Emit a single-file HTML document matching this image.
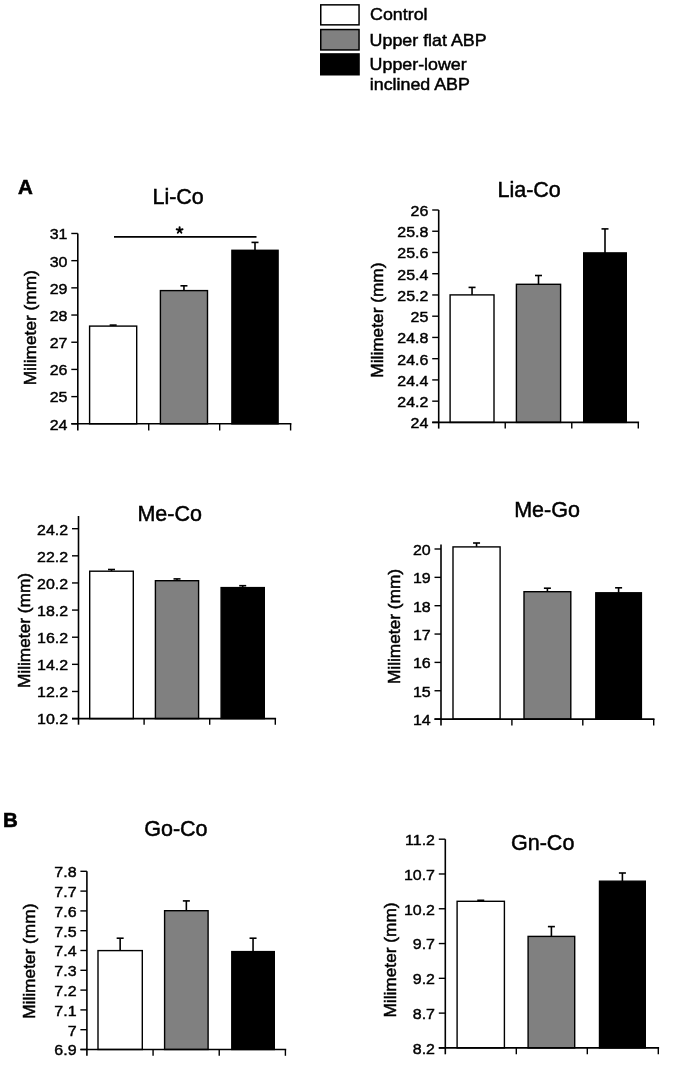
<!DOCTYPE html>
<html><head><meta charset="utf-8"><style>
html,body{margin:0;padding:0;background:#fff;overflow:hidden;}
svg{display:block;will-change:transform;}
text{font-family:"Liberation Sans",sans-serif;fill:#000;stroke:#000;stroke-width:0.5px;}
</style></head><body>
<svg width="677" height="1072" viewBox="0 0 677 1072">
<rect width="677" height="1072" fill="#fff"/>
<line x1="113.15" y1="326.10" x2="113.15" y2="325.10" stroke="#000" stroke-width="1.6"/>
<line x1="109.65" y1="325.10" x2="116.65" y2="325.10" stroke="#000" stroke-width="1.6"/>
<rect x="89.60" y="326.10" width="47.10" height="97.70" fill="#fff" stroke="#000" stroke-width="1.4"/>
<line x1="183.95" y1="290.60" x2="183.95" y2="285.80" stroke="#000" stroke-width="1.6"/>
<line x1="180.45" y1="285.80" x2="187.45" y2="285.80" stroke="#000" stroke-width="1.6"/>
<rect x="160.40" y="290.60" width="47.10" height="133.20" fill="#808080" stroke="#000" stroke-width="1.4"/>
<line x1="255.00" y1="250.30" x2="255.00" y2="242.40" stroke="#000" stroke-width="1.6"/>
<line x1="251.50" y1="242.40" x2="258.50" y2="242.40" stroke="#000" stroke-width="1.6"/>
<rect x="231.90" y="250.30" width="46.20" height="173.50" fill="#000" stroke="#000" stroke-width="1.4"/>
<line x1="77.80" y1="233.50" x2="77.80" y2="430.50" stroke="#000" stroke-width="1.6"/>
<line x1="71.30" y1="423.80" x2="291.40" y2="423.80" stroke="#000" stroke-width="1.6"/>
<line x1="148.73" y1="423.80" x2="148.73" y2="430.50" stroke="#000" stroke-width="1.4"/>
<line x1="219.67" y1="423.80" x2="219.67" y2="430.50" stroke="#000" stroke-width="1.4"/>
<line x1="290.60" y1="423.80" x2="290.60" y2="430.50" stroke="#000" stroke-width="1.4"/>
<line x1="71.30" y1="423.80" x2="77.80" y2="423.80" stroke="#000" stroke-width="1.4"/>
<text transform="translate(67.50,429.65) scale(1,0.94)" font-size="16.0" text-anchor="end" style="stroke-width:0.45px">24</text>
<line x1="71.30" y1="396.61" x2="77.80" y2="396.61" stroke="#000" stroke-width="1.4"/>
<text transform="translate(67.50,402.46) scale(1,0.94)" font-size="16.0" text-anchor="end" style="stroke-width:0.45px">25</text>
<line x1="71.30" y1="369.42" x2="77.80" y2="369.42" stroke="#000" stroke-width="1.4"/>
<text transform="translate(67.50,375.27) scale(1,0.94)" font-size="16.0" text-anchor="end" style="stroke-width:0.45px">26</text>
<line x1="71.30" y1="342.23" x2="77.80" y2="342.23" stroke="#000" stroke-width="1.4"/>
<text transform="translate(67.50,348.08) scale(1,0.94)" font-size="16.0" text-anchor="end" style="stroke-width:0.45px">27</text>
<line x1="71.30" y1="315.04" x2="77.80" y2="315.04" stroke="#000" stroke-width="1.4"/>
<text transform="translate(67.50,320.89) scale(1,0.94)" font-size="16.0" text-anchor="end" style="stroke-width:0.45px">28</text>
<line x1="71.30" y1="287.85" x2="77.80" y2="287.85" stroke="#000" stroke-width="1.4"/>
<text transform="translate(67.50,293.70) scale(1,0.94)" font-size="16.0" text-anchor="end" style="stroke-width:0.45px">29</text>
<line x1="71.30" y1="260.66" x2="77.80" y2="260.66" stroke="#000" stroke-width="1.4"/>
<text transform="translate(67.50,266.51) scale(1,0.94)" font-size="16.0" text-anchor="end" style="stroke-width:0.45px">30</text>
<line x1="71.30" y1="233.47" x2="77.80" y2="233.47" stroke="#000" stroke-width="1.4"/>
<text transform="translate(67.50,239.32) scale(1,0.94)" font-size="16.0" text-anchor="end" style="stroke-width:0.45px">31</text>
<text x="152.44" y="203.80" font-size="21.5">Li-Co</text>
<text transform="translate(36.30,327.75) rotate(-90)" x="0" y="0" font-size="17.3" text-anchor="middle">Milimeter (mm)</text>
<line x1="472.05" y1="294.90" x2="472.05" y2="287.40" stroke="#000" stroke-width="1.6"/>
<line x1="468.55" y1="287.40" x2="475.55" y2="287.40" stroke="#000" stroke-width="1.6"/>
<rect x="450.10" y="294.90" width="43.90" height="127.50" fill="#fff" stroke="#000" stroke-width="1.4"/>
<line x1="538.50" y1="284.30" x2="538.50" y2="275.50" stroke="#000" stroke-width="1.6"/>
<line x1="535.00" y1="275.50" x2="542.00" y2="275.50" stroke="#000" stroke-width="1.6"/>
<rect x="516.40" y="284.30" width="44.20" height="138.10" fill="#808080" stroke="#000" stroke-width="1.4"/>
<line x1="605.00" y1="252.90" x2="605.00" y2="228.90" stroke="#000" stroke-width="1.6"/>
<line x1="601.50" y1="228.90" x2="608.50" y2="228.90" stroke="#000" stroke-width="1.6"/>
<rect x="583.70" y="252.90" width="42.60" height="169.50" fill="#000" stroke="#000" stroke-width="1.4"/>
<line x1="438.70" y1="210.00" x2="438.70" y2="428.60" stroke="#000" stroke-width="1.6"/>
<line x1="432.20" y1="422.40" x2="639.10" y2="422.40" stroke="#000" stroke-width="1.6"/>
<line x1="505.23" y1="422.40" x2="505.23" y2="428.60" stroke="#000" stroke-width="1.4"/>
<line x1="571.77" y1="422.40" x2="571.77" y2="428.60" stroke="#000" stroke-width="1.4"/>
<line x1="638.30" y1="422.40" x2="638.30" y2="428.60" stroke="#000" stroke-width="1.4"/>
<line x1="432.20" y1="422.40" x2="438.70" y2="422.40" stroke="#000" stroke-width="1.4"/>
<text transform="translate(428.40,428.25) scale(1,0.94)" font-size="16.0" text-anchor="end" style="stroke-width:0.45px">24</text>
<line x1="432.20" y1="401.16" x2="438.70" y2="401.16" stroke="#000" stroke-width="1.4"/>
<text transform="translate(428.40,407.01) scale(1,0.94)" font-size="16.0" text-anchor="end" style="stroke-width:0.45px">24.2</text>
<line x1="432.20" y1="379.92" x2="438.70" y2="379.92" stroke="#000" stroke-width="1.4"/>
<text transform="translate(428.40,385.77) scale(1,0.94)" font-size="16.0" text-anchor="end" style="stroke-width:0.45px">24.4</text>
<line x1="432.20" y1="358.68" x2="438.70" y2="358.68" stroke="#000" stroke-width="1.4"/>
<text transform="translate(428.40,364.53) scale(1,0.94)" font-size="16.0" text-anchor="end" style="stroke-width:0.45px">24.6</text>
<line x1="432.20" y1="337.44" x2="438.70" y2="337.44" stroke="#000" stroke-width="1.4"/>
<text transform="translate(428.40,343.29) scale(1,0.94)" font-size="16.0" text-anchor="end" style="stroke-width:0.45px">24.8</text>
<line x1="432.20" y1="316.20" x2="438.70" y2="316.20" stroke="#000" stroke-width="1.4"/>
<text transform="translate(428.40,322.05) scale(1,0.94)" font-size="16.0" text-anchor="end" style="stroke-width:0.45px">25</text>
<line x1="432.20" y1="294.96" x2="438.70" y2="294.96" stroke="#000" stroke-width="1.4"/>
<text transform="translate(428.40,300.81) scale(1,0.94)" font-size="16.0" text-anchor="end" style="stroke-width:0.45px">25.2</text>
<line x1="432.20" y1="273.72" x2="438.70" y2="273.72" stroke="#000" stroke-width="1.4"/>
<text transform="translate(428.40,279.57) scale(1,0.94)" font-size="16.0" text-anchor="end" style="stroke-width:0.45px">25.4</text>
<line x1="432.20" y1="252.48" x2="438.70" y2="252.48" stroke="#000" stroke-width="1.4"/>
<text transform="translate(428.40,258.33) scale(1,0.94)" font-size="16.0" text-anchor="end" style="stroke-width:0.45px">25.6</text>
<line x1="432.20" y1="231.24" x2="438.70" y2="231.24" stroke="#000" stroke-width="1.4"/>
<text transform="translate(428.40,237.09) scale(1,0.94)" font-size="16.0" text-anchor="end" style="stroke-width:0.45px">25.8</text>
<line x1="432.20" y1="210.00" x2="438.70" y2="210.00" stroke="#000" stroke-width="1.4"/>
<text transform="translate(428.40,215.85) scale(1,0.94)" font-size="16.0" text-anchor="end" style="stroke-width:0.45px">26</text>
<text x="497.44" y="196.90" font-size="21.5">Lia-Co</text>
<text transform="translate(382.90,320.10) rotate(-90)" x="0" y="0" font-size="17.3" text-anchor="middle">Milimeter (mm)</text>
<line x1="111.50" y1="571.20" x2="111.50" y2="569.50" stroke="#000" stroke-width="1.6"/>
<line x1="108.00" y1="569.50" x2="115.00" y2="569.50" stroke="#000" stroke-width="1.6"/>
<rect x="89.70" y="571.20" width="43.60" height="147.40" fill="#fff" stroke="#000" stroke-width="1.4"/>
<line x1="177.00" y1="580.70" x2="177.00" y2="578.90" stroke="#000" stroke-width="1.6"/>
<line x1="173.50" y1="578.90" x2="180.50" y2="578.90" stroke="#000" stroke-width="1.6"/>
<rect x="155.40" y="580.70" width="43.20" height="137.90" fill="#808080" stroke="#000" stroke-width="1.4"/>
<line x1="242.70" y1="587.60" x2="242.70" y2="585.70" stroke="#000" stroke-width="1.6"/>
<line x1="239.20" y1="585.70" x2="246.20" y2="585.70" stroke="#000" stroke-width="1.6"/>
<rect x="221.10" y="587.60" width="43.20" height="131.00" fill="#000" stroke="#000" stroke-width="1.4"/>
<line x1="78.50" y1="516.00" x2="78.50" y2="724.70" stroke="#000" stroke-width="1.6"/>
<line x1="72.00" y1="718.60" x2="276.10" y2="718.60" stroke="#000" stroke-width="1.6"/>
<line x1="144.10" y1="718.60" x2="144.10" y2="724.70" stroke="#000" stroke-width="1.4"/>
<line x1="209.70" y1="718.60" x2="209.70" y2="724.70" stroke="#000" stroke-width="1.4"/>
<line x1="275.30" y1="718.60" x2="275.30" y2="724.70" stroke="#000" stroke-width="1.4"/>
<line x1="72.00" y1="718.60" x2="78.50" y2="718.60" stroke="#000" stroke-width="1.4"/>
<text transform="translate(68.20,724.45) scale(1,0.94)" font-size="16.0" text-anchor="end" style="stroke-width:0.45px">10.2</text>
<line x1="72.00" y1="691.47" x2="78.50" y2="691.47" stroke="#000" stroke-width="1.4"/>
<text transform="translate(68.20,697.32) scale(1,0.94)" font-size="16.0" text-anchor="end" style="stroke-width:0.45px">12.2</text>
<line x1="72.00" y1="664.34" x2="78.50" y2="664.34" stroke="#000" stroke-width="1.4"/>
<text transform="translate(68.20,670.19) scale(1,0.94)" font-size="16.0" text-anchor="end" style="stroke-width:0.45px">14.2</text>
<line x1="72.00" y1="637.21" x2="78.50" y2="637.21" stroke="#000" stroke-width="1.4"/>
<text transform="translate(68.20,643.06) scale(1,0.94)" font-size="16.0" text-anchor="end" style="stroke-width:0.45px">16.2</text>
<line x1="72.00" y1="610.08" x2="78.50" y2="610.08" stroke="#000" stroke-width="1.4"/>
<text transform="translate(68.20,615.93) scale(1,0.94)" font-size="16.0" text-anchor="end" style="stroke-width:0.45px">18.2</text>
<line x1="72.00" y1="582.95" x2="78.50" y2="582.95" stroke="#000" stroke-width="1.4"/>
<text transform="translate(68.20,588.80) scale(1,0.94)" font-size="16.0" text-anchor="end" style="stroke-width:0.45px">20.2</text>
<line x1="72.00" y1="555.82" x2="78.50" y2="555.82" stroke="#000" stroke-width="1.4"/>
<text transform="translate(68.20,561.67) scale(1,0.94)" font-size="16.0" text-anchor="end" style="stroke-width:0.45px">22.2</text>
<line x1="72.00" y1="528.69" x2="78.50" y2="528.69" stroke="#000" stroke-width="1.4"/>
<text transform="translate(68.20,534.54) scale(1,0.94)" font-size="16.0" text-anchor="end" style="stroke-width:0.45px">24.2</text>
<text x="137.44" y="521.00" font-size="21.5">Me-Co</text>
<text transform="translate(29.50,630.50) rotate(-90)" x="0" y="0" font-size="17.3" text-anchor="middle">Milimeter (mm)</text>
<line x1="476.55" y1="546.90" x2="476.55" y2="543.00" stroke="#000" stroke-width="1.6"/>
<line x1="473.05" y1="543.00" x2="480.05" y2="543.00" stroke="#000" stroke-width="1.6"/>
<rect x="453.00" y="546.90" width="47.10" height="172.20" fill="#fff" stroke="#000" stroke-width="1.4"/>
<line x1="547.40" y1="591.70" x2="547.40" y2="588.20" stroke="#000" stroke-width="1.6"/>
<line x1="543.90" y1="588.20" x2="550.90" y2="588.20" stroke="#000" stroke-width="1.6"/>
<rect x="524.00" y="591.70" width="46.80" height="127.40" fill="#808080" stroke="#000" stroke-width="1.4"/>
<line x1="618.60" y1="592.80" x2="618.60" y2="587.80" stroke="#000" stroke-width="1.6"/>
<line x1="615.10" y1="587.80" x2="622.10" y2="587.80" stroke="#000" stroke-width="1.6"/>
<rect x="595.80" y="592.80" width="45.60" height="126.30" fill="#000" stroke="#000" stroke-width="1.4"/>
<line x1="441.00" y1="544.60" x2="441.00" y2="725.60" stroke="#000" stroke-width="1.6"/>
<line x1="434.50" y1="719.10" x2="654.50" y2="719.10" stroke="#000" stroke-width="1.6"/>
<line x1="511.90" y1="719.10" x2="511.90" y2="725.60" stroke="#000" stroke-width="1.4"/>
<line x1="582.80" y1="719.10" x2="582.80" y2="725.60" stroke="#000" stroke-width="1.4"/>
<line x1="653.70" y1="719.10" x2="653.70" y2="725.60" stroke="#000" stroke-width="1.4"/>
<line x1="434.50" y1="719.10" x2="441.00" y2="719.10" stroke="#000" stroke-width="1.4"/>
<text transform="translate(430.70,724.95) scale(1,0.94)" font-size="16.0" text-anchor="end" style="stroke-width:0.45px">14</text>
<line x1="434.50" y1="690.75" x2="441.00" y2="690.75" stroke="#000" stroke-width="1.4"/>
<text transform="translate(430.70,696.60) scale(1,0.94)" font-size="16.0" text-anchor="end" style="stroke-width:0.45px">15</text>
<line x1="434.50" y1="662.40" x2="441.00" y2="662.40" stroke="#000" stroke-width="1.4"/>
<text transform="translate(430.70,668.25) scale(1,0.94)" font-size="16.0" text-anchor="end" style="stroke-width:0.45px">16</text>
<line x1="434.50" y1="634.05" x2="441.00" y2="634.05" stroke="#000" stroke-width="1.4"/>
<text transform="translate(430.70,639.90) scale(1,0.94)" font-size="16.0" text-anchor="end" style="stroke-width:0.45px">17</text>
<line x1="434.50" y1="605.70" x2="441.00" y2="605.70" stroke="#000" stroke-width="1.4"/>
<text transform="translate(430.70,611.55) scale(1,0.94)" font-size="16.0" text-anchor="end" style="stroke-width:0.45px">18</text>
<line x1="434.50" y1="577.35" x2="441.00" y2="577.35" stroke="#000" stroke-width="1.4"/>
<text transform="translate(430.70,583.20) scale(1,0.94)" font-size="16.0" text-anchor="end" style="stroke-width:0.45px">19</text>
<line x1="434.50" y1="549.00" x2="441.00" y2="549.00" stroke="#000" stroke-width="1.4"/>
<text transform="translate(430.70,554.85) scale(1,0.94)" font-size="16.0" text-anchor="end" style="stroke-width:0.45px">20</text>
<text x="514.14" y="517.10" font-size="21.5">Me-Go</text>
<text transform="translate(399.90,626.50) rotate(-90)" x="0" y="0" font-size="17.3" text-anchor="middle">Milimeter (mm)</text>
<line x1="120.15" y1="950.60" x2="120.15" y2="938.20" stroke="#000" stroke-width="1.6"/>
<line x1="116.65" y1="938.20" x2="123.65" y2="938.20" stroke="#000" stroke-width="1.6"/>
<rect x="98.00" y="950.60" width="44.30" height="98.90" fill="#fff" stroke="#000" stroke-width="1.4"/>
<line x1="186.35" y1="910.70" x2="186.35" y2="900.90" stroke="#000" stroke-width="1.6"/>
<line x1="182.85" y1="900.90" x2="189.85" y2="900.90" stroke="#000" stroke-width="1.6"/>
<rect x="164.60" y="910.70" width="43.50" height="138.80" fill="#808080" stroke="#000" stroke-width="1.4"/>
<line x1="253.05" y1="951.60" x2="253.05" y2="938.20" stroke="#000" stroke-width="1.6"/>
<line x1="249.55" y1="938.20" x2="256.55" y2="938.20" stroke="#000" stroke-width="1.6"/>
<rect x="231.80" y="951.60" width="42.50" height="97.90" fill="#000" stroke="#000" stroke-width="1.4"/>
<line x1="86.90" y1="871.30" x2="86.90" y2="1055.80" stroke="#000" stroke-width="1.6"/>
<line x1="80.40" y1="1049.50" x2="286.20" y2="1049.50" stroke="#000" stroke-width="1.6"/>
<line x1="153.07" y1="1049.50" x2="153.07" y2="1055.80" stroke="#000" stroke-width="1.4"/>
<line x1="219.23" y1="1049.50" x2="219.23" y2="1055.80" stroke="#000" stroke-width="1.4"/>
<line x1="285.40" y1="1049.50" x2="285.40" y2="1055.80" stroke="#000" stroke-width="1.4"/>
<line x1="80.40" y1="1049.50" x2="86.90" y2="1049.50" stroke="#000" stroke-width="1.4"/>
<text transform="translate(76.60,1055.35) scale(1,0.94)" font-size="16.0" text-anchor="end" style="stroke-width:0.45px">6.9</text>
<line x1="80.40" y1="1029.70" x2="86.90" y2="1029.70" stroke="#000" stroke-width="1.4"/>
<text transform="translate(76.60,1035.55) scale(1,0.94)" font-size="16.0" text-anchor="end" style="stroke-width:0.45px">7</text>
<line x1="80.40" y1="1009.90" x2="86.90" y2="1009.90" stroke="#000" stroke-width="1.4"/>
<text transform="translate(76.60,1015.75) scale(1,0.94)" font-size="16.0" text-anchor="end" style="stroke-width:0.45px">7.1</text>
<line x1="80.40" y1="990.10" x2="86.90" y2="990.10" stroke="#000" stroke-width="1.4"/>
<text transform="translate(76.60,995.95) scale(1,0.94)" font-size="16.0" text-anchor="end" style="stroke-width:0.45px">7.2</text>
<line x1="80.40" y1="970.30" x2="86.90" y2="970.30" stroke="#000" stroke-width="1.4"/>
<text transform="translate(76.60,976.15) scale(1,0.94)" font-size="16.0" text-anchor="end" style="stroke-width:0.45px">7.3</text>
<line x1="80.40" y1="950.50" x2="86.90" y2="950.50" stroke="#000" stroke-width="1.4"/>
<text transform="translate(76.60,956.35) scale(1,0.94)" font-size="16.0" text-anchor="end" style="stroke-width:0.45px">7.4</text>
<line x1="80.40" y1="930.70" x2="86.90" y2="930.70" stroke="#000" stroke-width="1.4"/>
<text transform="translate(76.60,936.55) scale(1,0.94)" font-size="16.0" text-anchor="end" style="stroke-width:0.45px">7.5</text>
<line x1="80.40" y1="910.90" x2="86.90" y2="910.90" stroke="#000" stroke-width="1.4"/>
<text transform="translate(76.60,916.75) scale(1,0.94)" font-size="16.0" text-anchor="end" style="stroke-width:0.45px">7.6</text>
<line x1="80.40" y1="891.10" x2="86.90" y2="891.10" stroke="#000" stroke-width="1.4"/>
<text transform="translate(76.60,896.95) scale(1,0.94)" font-size="16.0" text-anchor="end" style="stroke-width:0.45px">7.7</text>
<line x1="80.40" y1="871.30" x2="86.90" y2="871.30" stroke="#000" stroke-width="1.4"/>
<text transform="translate(76.60,877.15) scale(1,0.94)" font-size="16.0" text-anchor="end" style="stroke-width:0.45px">7.8</text>
<text x="144.23" y="835.50" font-size="21.5">Go-Co</text>
<text transform="translate(35.20,961.20) rotate(-90)" x="0" y="0" font-size="17.3" text-anchor="middle">Milimeter (mm)</text>
<line x1="480.75" y1="901.30" x2="480.75" y2="900.30" stroke="#000" stroke-width="1.6"/>
<line x1="477.25" y1="900.30" x2="484.25" y2="900.30" stroke="#000" stroke-width="1.6"/>
<rect x="457.10" y="901.30" width="47.30" height="146.60" fill="#fff" stroke="#000" stroke-width="1.4"/>
<line x1="551.40" y1="936.40" x2="551.40" y2="926.60" stroke="#000" stroke-width="1.6"/>
<line x1="547.90" y1="926.60" x2="554.90" y2="926.60" stroke="#000" stroke-width="1.6"/>
<rect x="528.10" y="936.40" width="46.60" height="111.50" fill="#808080" stroke="#000" stroke-width="1.4"/>
<line x1="622.40" y1="881.20" x2="622.40" y2="873.00" stroke="#000" stroke-width="1.6"/>
<line x1="618.90" y1="873.00" x2="625.90" y2="873.00" stroke="#000" stroke-width="1.6"/>
<rect x="599.50" y="881.20" width="45.80" height="166.70" fill="#000" stroke="#000" stroke-width="1.4"/>
<line x1="445.30" y1="839.20" x2="445.30" y2="1054.30" stroke="#000" stroke-width="1.6"/>
<line x1="438.80" y1="1047.90" x2="659.10" y2="1047.90" stroke="#000" stroke-width="1.6"/>
<line x1="516.30" y1="1047.90" x2="516.30" y2="1054.30" stroke="#000" stroke-width="1.4"/>
<line x1="587.30" y1="1047.90" x2="587.30" y2="1054.30" stroke="#000" stroke-width="1.4"/>
<line x1="658.30" y1="1047.90" x2="658.30" y2="1054.30" stroke="#000" stroke-width="1.4"/>
<line x1="438.80" y1="1047.90" x2="445.30" y2="1047.90" stroke="#000" stroke-width="1.4"/>
<text transform="translate(435.00,1053.75) scale(1,0.94)" font-size="16.0" text-anchor="end" style="stroke-width:0.45px">8.2</text>
<line x1="438.80" y1="1013.12" x2="445.30" y2="1013.12" stroke="#000" stroke-width="1.4"/>
<text transform="translate(435.00,1018.97) scale(1,0.94)" font-size="16.0" text-anchor="end" style="stroke-width:0.45px">8.7</text>
<line x1="438.80" y1="978.33" x2="445.30" y2="978.33" stroke="#000" stroke-width="1.4"/>
<text transform="translate(435.00,984.18) scale(1,0.94)" font-size="16.0" text-anchor="end" style="stroke-width:0.45px">9.2</text>
<line x1="438.80" y1="943.55" x2="445.30" y2="943.55" stroke="#000" stroke-width="1.4"/>
<text transform="translate(435.00,949.40) scale(1,0.94)" font-size="16.0" text-anchor="end" style="stroke-width:0.45px">9.7</text>
<line x1="438.80" y1="908.76" x2="445.30" y2="908.76" stroke="#000" stroke-width="1.4"/>
<text transform="translate(435.00,914.61) scale(1,0.94)" font-size="16.0" text-anchor="end" style="stroke-width:0.45px">10.2</text>
<line x1="438.80" y1="873.98" x2="445.30" y2="873.98" stroke="#000" stroke-width="1.4"/>
<text transform="translate(435.00,879.83) scale(1,0.94)" font-size="16.0" text-anchor="end" style="stroke-width:0.45px">10.7</text>
<line x1="438.80" y1="839.19" x2="445.30" y2="839.19" stroke="#000" stroke-width="1.4"/>
<text transform="translate(435.00,845.04) scale(1,0.94)" font-size="16.0" text-anchor="end" style="stroke-width:0.45px">11.2</text>
<text x="511.03" y="850.40" font-size="21.5">Gn-Co</text>
<text transform="translate(395.60,960.00) rotate(-90)" x="0" y="0" font-size="17.3" text-anchor="middle">Milimeter (mm)</text>
<line x1="114" y1="236.9" x2="256.5" y2="236.9" stroke="#000" stroke-width="1.7"/>
<path d="M179.60,230.20L179.60,227.10M179.60,230.20L182.55,229.24M179.60,230.20L181.42,232.71M179.60,230.20L177.78,232.71M179.60,230.20L176.65,229.24" stroke="#000" stroke-width="1.9" stroke-linecap="round" fill="none"/>
<text x="17.91" y="194.00" font-size="20.5" font-weight="bold" style="stroke-width:0.6px">A</text>
<text x="3.05" y="827.00" font-size="20.5" font-weight="bold" style="stroke-width:0.6px">B</text>
<rect x="320.75" y="4.85" width="38.30" height="20.00" fill="#fff" stroke="#000" stroke-width="1.5"/>
<rect x="320.75" y="29.55" width="38.30" height="20.40" fill="#808080" stroke="#000" stroke-width="1.5"/>
<rect x="320.75" y="53.95" width="38.30" height="20.80" fill="#000" stroke="#000" stroke-width="1.5"/>
<text transform="translate(370.08,20.2) scale(1,0.95)" font-size="17.85">Control</text>
<text transform="translate(369.61,46.1) scale(1,0.95)" font-size="17.85">Upper flat ABP</text>
<text transform="translate(369.61,69.5) scale(1,0.95)" font-size="17.85">Upper-lower</text>
<text transform="translate(369.79,90.2) scale(1,0.95)" font-size="17.85">inclined ABP</text>
</svg>
</body></html>
